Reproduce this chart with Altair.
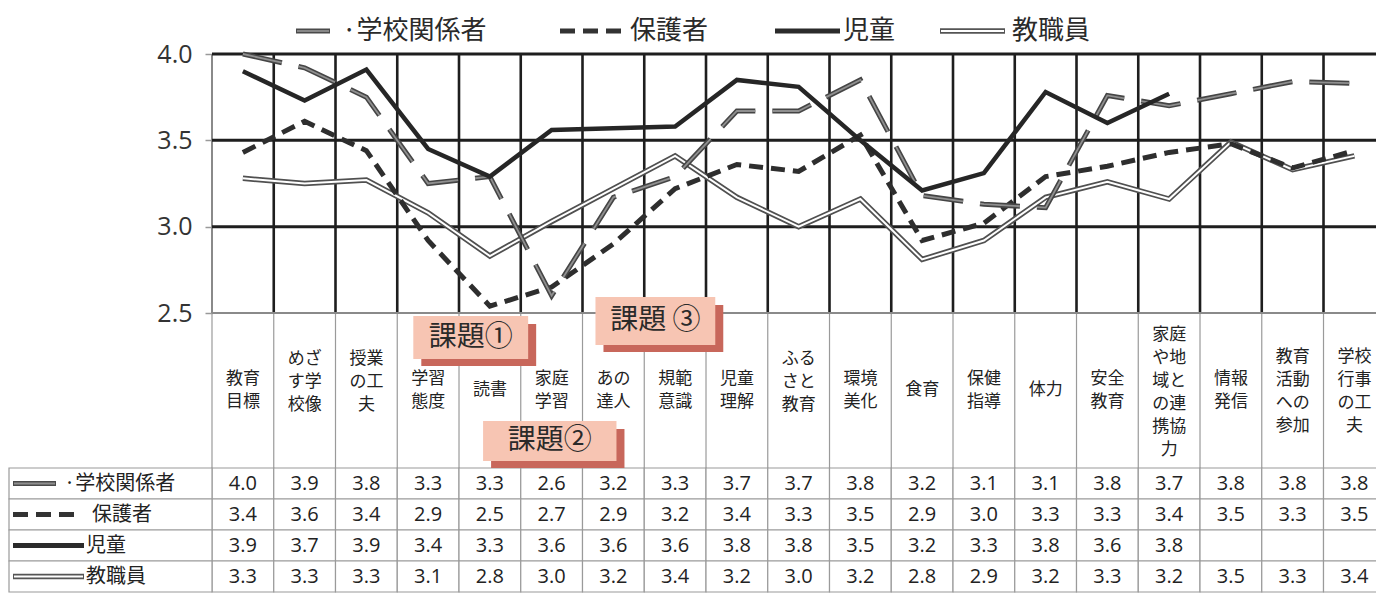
import altair as alt
import pandas as pd

# ---------------- data ----------------
categories = ["教育目標", "めざす学校像", "授業の工夫", "学習態度", "読書", "家庭学習", "あの達人",
              "規範意識", "児童理解", "ふるさと教育", "環境美化", "食育", "保健指導", "体力",
              "安全教育", "家庭や地域との連携協力", "情報発信", "教育活動への参加", "学校行事の工夫"]
header_labels = ["教育\n目標", "めざ\nす学\n校像", "授業\nの工\n夫", "学習\n態度", "読書", "家庭\n学習",
                 "あの\n達人", "規範\n意識", "児童\n理解", "ふる\nさと\n教育", "環境\n美化", "食育",
                 "保健\n指導", "体力", "安全\n教育", "家庭\nや地\n域と\nの連\n携協\n力", "情報\n発信",
                 "教育\n活動\nへの\n参加", "学校\n行事\nの工\n夫"]

series = ["·学校関係者", "保護者", "児童", "教職員"]

# plotted values
line_school = [4.00, 3.92, 3.75, 3.25, 3.29, 2.60, 3.17, 3.29, 3.67, 3.67, 3.85, 3.18, 3.13, 3.11, 3.76, 3.70, 3.77, 3.84, 3.83]
line_parent = [3.43, 3.61, 3.44, 2.92, 2.54, 2.65, 2.90, 3.22, 3.36, 3.32, 3.53, 2.92, 3.02, 3.29, 3.35, 3.43, 3.48, 3.34, 3.44]
line_child = [3.90, 3.73, 3.91, 3.45, 3.29, 3.56, 3.57, 3.58, 3.85, 3.81, 3.50, 3.21, 3.31, 3.78, 3.60, 3.77, None, None, None]
line_staff = [3.28, 3.25, 3.27, 3.08, 2.83, 3.03, 3.22, 3.41, 3.17, 3.00, 3.16, 2.81, 2.92, 3.17, 3.26, 3.16, 3.49, 3.33, 3.41]

# table values (as printed)
table_school = ["4.0", "3.9", "3.8", "3.3", "3.3", "2.6", "3.2", "3.3", "3.7", "3.7", "3.8", "3.2", "3.1", "3.1", "3.8", "3.7", "3.8", "3.8", "3.8"]
table_parent = ["3.4", "3.6", "3.4", "2.9", "2.5", "2.7", "2.9", "3.2", "3.4", "3.3", "3.5", "2.9", "3.0", "3.3", "3.3", "3.4", "3.5", "3.3", "3.5"]
table_child = ["3.9", "3.7", "3.9", "3.4", "3.3", "3.6", "3.6", "3.6", "3.8", "3.8", "3.5", "3.2", "3.3", "3.8", "3.6", "3.8", "", "", ""]
table_staff = ["3.3", "3.3", "3.3", "3.1", "2.8", "3.0", "3.2", "3.4", "3.2", "3.0", "3.2", "2.8", "2.9", "3.2", "3.3", "3.2", "3.5", "3.3", "3.4"]

y_ticks = [2.5, 3.0, 3.5, 4.0]
callout_texts = ["課題①", "課題②", "課題 ③"]

# ---------------- layout ----------------
W, H = 1164, 539
PAD_L, PAD_T = 204, 46
PLOT_H = 259
X_MAX = 18.85
Y_MIN = 4.0 - H * 1.5 / PLOT_H
ROW_TOP, ROW_H = 414, 31
LINE_H = 23
HEADER_CENTER = {1: 336, 2: 336, 3: 328, 4: 337, 6: 338}
CJK = "Noto Sans CJK JP"
NUM = "Open Sans"
DARK = "#1e1e1e"
GRAYL = "#9a9a9a"

xs = alt.Scale(domain=[0, X_MAX], nice=False, zero=False)
ys = alt.Scale(domain=[Y_MIN, 4.0], nice=False, zero=False)
rs = alt.Scale(domain=series, range=[ROW_TOP, ROW_TOP + 4 * ROW_H], paddingInner=0, paddingOuter=0)
y_axis = alt.Axis(values=y_ticks, format=".1f", grid=False, domain=False, ticks=True, tickSize=7,
                  tickColor="#999", tickWidth=1.5, labelFont=NUM, labelFontSize=25,
                  labelColor="#333", labelPadding=13, title=None)

n = len(categories)
one = pd.DataFrame({"k": [0]})

layers = []

# vertical lines: plot area (dark), left axis line (gray), table (thin gray)
bounds_inner = pd.DataFrame({"b": list(range(1, n))})
bounds_all = pd.DataFrame({"b": list(range(0, n))})
layers.append(alt.Chart(bounds_inner).mark_rule(color=DARK, strokeWidth=2.6).encode(
    x=alt.X("b:Q", scale=xs, axis=None), y=alt.value(0), y2=alt.value(PLOT_H)))
layers.append(alt.Chart(bounds_all).mark_rule(color=GRAYL, strokeWidth=1.2).encode(
    x=alt.X("b:Q", scale=xs, axis=None), y=alt.value(PLOT_H), y2=alt.value(ROW_TOP)))
layers.append(alt.Chart(pd.DataFrame({"b": [0]})).mark_rule(color="#8a8a8a", strokeWidth=2).encode(
    x=alt.X("b:Q", scale=xs, axis=None), y=alt.value(0), y2=alt.value(PLOT_H)))

# horizontal grid lines
grid_df = pd.DataFrame({"t": y_ticks, "major": [False, True, True, True]})
layers.append(alt.Chart(grid_df[grid_df.major]).mark_rule(color=DARK, strokeWidth=3).encode(
    y=alt.Y("t:Q", scale=ys, axis=y_axis), x=alt.value(0), x2=alt.value(W)))
layers.append(alt.Chart(grid_df[~grid_df.major]).mark_rule(color="#8a8a8a", strokeWidth=2).encode(
    y=alt.Y("t:Q", scale=ys, axis=None), x=alt.value(0), x2=alt.value(W)))

# table cells
cell_rows = []
for s, vals in zip(series, [table_school, table_parent, table_child, table_staff]):
    for i, v in enumerate(vals):
        cell_rows.append({"series": s, "x1": i, "x2": i + 1, "xc": i + 0.5, "label": v})
cells = pd.DataFrame(cell_rows)
layers.append(alt.Chart(cells).mark_rect(fill="white", stroke=GRAYL, strokeWidth=1.2).encode(
    x=alt.X("x1:Q", scale=xs, axis=None), x2="x2:Q",
    y=alt.Y("series:N", scale=rs, axis=None)))
layers.append(alt.Chart(cells).mark_text(font=NUM, fontSize=20, color="#222").encode(
    x=alt.X("xc:Q", scale=xs, axis=None),
    y=alt.Y("series:N", scale=rs, axis=None), text="label:N"))

# label column cells
lab_df = pd.DataFrame({"series": series})
layers.append(alt.Chart(lab_df).mark_rect(fill="white", stroke=GRAYL, strokeWidth=1.2).encode(
    x=alt.value(-PAD_L + 1), x2=alt.value(0),
    y=alt.Y("series:N", scale=rs, axis=None)))


def symbol_layers(kind, x1, x2, y):
    out = []
    d = alt.Chart(one)
    if kind == 0:
        out.append(d.mark_rule(color="#4a4a4a", strokeWidth=5).encode(x=alt.value(x1), x2=alt.value(x2), y=alt.value(y)))
        out.append(d.mark_rule(color="#8f8f8f", strokeWidth=1.8).encode(x=alt.value(x1 + 1), x2=alt.value(x2 - 1), y=alt.value(y)))
    elif kind == 1:
        out.append(d.mark_rule(color="#333", strokeWidth=5, strokeDash=[15, 8]).encode(x=alt.value(x1), x2=alt.value(x2), y=alt.value(y)))
    elif kind == 2:
        out.append(d.mark_rule(color="#2b2b2b", strokeWidth=5).encode(x=alt.value(x1), x2=alt.value(x2), y=alt.value(y)))
    else:
        out.append(d.mark_rule(color="#555", strokeWidth=5.5).encode(x=alt.value(x1), x2=alt.value(x2), y=alt.value(y)))
        out.append(d.mark_rule(color="white", strokeWidth=2).encode(x=alt.value(x1 + 1), x2=alt.value(x2 - 1), y=alt.value(y)))
    return out


# label column symbols + names
tab_sym = [(-199, -156), (-199, -138), (-199, -128), (-199, -128)]
tab_txt = [-148, -120, -126, -126]
for k, s in enumerate(series):
    yc = ROW_TOP + ROW_H * k + ROW_H / 2
    layers += symbol_layers(k, tab_sym[k][0], tab_sym[k][1], yc)
    layers.append(alt.Chart(pd.DataFrame({"name": [s]})).mark_text(
        font=CJK, fontSize=20, color="#222", align="left", baseline="middle").encode(
        x=alt.value(tab_txt[k]), y=alt.value(yc), text="name:N"))

# header labels, grouped by number of lines so each block is centred
hdr = pd.DataFrame({"xc": [i + 0.5 for i in range(n)], "lab": header_labels,
                    "nl": [h.count("\n") + 1 for h in header_labels]})
for nl, grp in hdr.groupby("nl"):
    y_first = HEADER_CENTER[nl] - (nl - 1) * LINE_H / 2
    layers.append(alt.Chart(grp).mark_text(font=CJK, fontSize=17, color="#222", lineBreak="\n",
                                            lineHeight=LINE_H, baseline="middle").encode(
        x=alt.X("xc:Q", scale=xs, axis=None), y=alt.value(y_first), text="lab:N"))

# data lines
ldf = pd.DataFrame({"x": [i + 0.5 for i in range(n)], "school": line_school, "parent": line_parent,
                    "child": line_child, "staff": line_staff})


def line_layer(col, **kw):
    d = ldf[["x", col]].dropna()
    return alt.Chart(d).mark_line(strokeJoin="miter", **kw).encode(
        x=alt.X("x:Q", scale=xs, axis=None), y=alt.Y(f"{col}:Q", scale=ys, axis=None))


layers.append(line_layer("staff", color="#505050", strokeWidth=5.5))
layers.append(line_layer("staff", color="white", strokeWidth=2))
layers.append(line_layer("parent", color="#2e2e2e", strokeWidth=5, strokeDash=[14, 8]))
layers.append(line_layer("school", color="#454545", strokeWidth=5, strokeDash=[40, 17]))
layers.append(line_layer("school", color="#8f8f8f", strokeWidth=1.8, strokeDash=[40, 17]))
layers.append(line_layer("child", color="#262626", strokeWidth=4.5))

# callouts (column units for x, pixels for y)
callout_x = [(3.26, 5.12), (4.39, 6.55), (6.21, 8.15)]
callout_y = [(262, 305), (367, 407), (243, 291)]
for t, (cx1, cx2), (cy1, cy2) in zip(callout_texts, callout_x, callout_y):
    d = pd.DataFrame({"x1": [cx1], "x2": [cx2], "xc": [(cx1 + cx2) / 2], "t": [t]})
    layers.append(alt.Chart(d).mark_rect(fill="#c8675b", xOffset=8, x2Offset=8).encode(
        x=alt.X("x1:Q", scale=xs, axis=None), x2="x2:Q", y=alt.value(cy1 + 8), y2=alt.value(cy2 + 7)))
    layers.append(alt.Chart(d).mark_rect(fill="#f7c5b3").encode(
        x=alt.X("x1:Q", scale=xs, axis=None), x2="x2:Q", y=alt.value(cy1), y2=alt.value(cy2)))
    layers.append(alt.Chart(d).mark_text(font=CJK, fontSize=28, color="#2a2a2a", baseline="middle").encode(
        x=alt.X("xc:Q", scale=xs, axis=None), y=alt.value((cy1 + cy2) / 2), text="t:N"))

# top legend
leg_sym = [(84, 118), (348, 409), (563, 628), (728, 793)]
leg_txt = [130, 418, 631, 800]
LEG_Y = -23
for k, s in enumerate(series):
    layers += symbol_layers(k, leg_sym[k][0], leg_sym[k][1], LEG_Y)
    layers.append(alt.Chart(pd.DataFrame({"name": [s]})).mark_text(
        font=CJK, fontSize=26, color="#2a2a2a", align="left", baseline="middle").encode(
        x=alt.value(leg_txt[k]), y=alt.value(LEG_Y), text="name:N"))

chart = alt.layer(*layers).resolve_scale(y="independent").properties(
    width=W, height=H, autosize=alt.AutoSizeParams(type="none"),
    padding={"left": PAD_L, "top": PAD_T, "right": 0, "bottom": 0},
    background="white",
).configure_view(stroke=None)

chart.save("out.html", embed_options={"renderer": "svg", "actions": False})
